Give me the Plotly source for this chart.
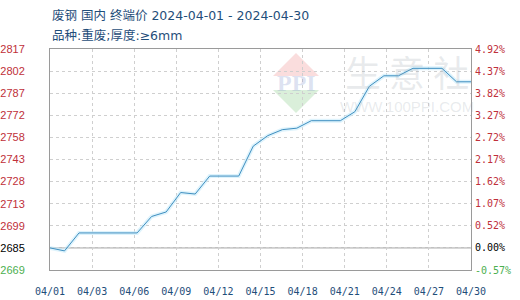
import pandas as pd
import plotly.graph_objects as go

# ---- data ----
dates = pd.date_range("2024-04-01", "2024-04-30", freq="D")
prices = [2685, 2683, 2695, 2695, 2695, 2695, 2695, 2706, 2709, 2722,
          2721, 2733, 2733, 2733, 2753, 2760, 2764, 2765, 2770, 2770,
          2770, 2776, 2793, 2800, 2800, 2805, 2805, 2805, 2796, 2796]
base_price = 2685
x_tick_labels = ["04/01", "04/03", "04/06", "04/09", "04/12", "04/15",
                 "04/18", "04/21", "04/24", "04/27", "04/30"]
left_tick_labels = ["2669", "2685", "2699", "2713", "2728", "2743",
                    "2758", "2772", "2787", "2802", "2817"]
right_tick_labels = ["-0.57%", "0.00%", "0.52%", "1.07%", "1.62%", "2.17%",
                     "2.72%", "3.27%", "3.82%", "4.37%", "4.92%"]
pct_step = 0.55  # percent per grid step
title_line1 = "废钢 国内 终端价 2024-04-01 - 2024-04-30"
title_line2 = "品种:重废;厚度:≥6mm"

# ---- derived scale ----
n_ticks = len(left_tick_labels)
tick_pos = [base_price * (1 + (k - 1) * pct_step / 100) for k in range(n_ticks)]
y_range = [tick_pos[0], tick_pos[-1]]

RED = "#c0303a"
GREEN = "#4caf50"
BLACK = "#000000"

def colored(labels):
    out = []
    for i, t in enumerate(labels):
        c = GREEN if i == 0 else (BLACK if i == 1 else RED)
        out.append(f'<span style="color:{c}">{t}</span>')
    return out

start, end = dates[0], dates[-1]
span = end - start
x_tick_pos = [start + span * k / (len(x_tick_labels) - 1) for k in range(len(x_tick_labels))]

fig = go.Figure()
# glow
fig.add_trace(go.Scatter(x=dates, y=prices, mode="lines",
                         line=dict(color="rgba(200,235,250,0.6)", width=4),
                         hoverinfo="skip", showlegend=False))
fig.add_trace(go.Scatter(x=dates, y=prices, mode="lines",
                         line=dict(color="#3f8fc0", width=1),
                         showlegend=False))
# invisible trace for right axis
fig.add_trace(go.Scatter(x=dates, y=prices, mode="lines", yaxis="y2",
                         line=dict(color="rgba(0,0,0,0)", width=0),
                         hoverinfo="skip", showlegend=False))

# baseline
fig.add_shape(type="line", xref="paper", x0=0, x1=1, yref="y",
              y0=base_price, y1=base_price, line=dict(color="#9a9a9a", width=1),
              layer="below")

# watermark logo
PL, PR, PT, PB = 50, 471, 49, 270

def px_to_paper(px, py):
    return (px - PL) / (PR - PL), (PB - py) / (PB - PT)

def path(points):
    s = ""
    for i, (px, py) in enumerate(points):
        x, y = px_to_paper(px, py)
        s += ("M" if i == 0 else "L") + f"{x:.4f},{y:.4f} "
    return s + "Z"

fig.add_shape(type="path", xref="paper", yref="paper", layer="below",
              path=path([(273, 76), (296, 53), (319, 76)]),
              fillcolor="rgba(240,150,150,0.32)", line=dict(width=0))
fig.add_shape(type="path", xref="paper", yref="paper", layer="below",
              path=path([(273, 90), (296, 113), (319, 90)]),
              fillcolor="rgba(140,205,140,0.32)", line=dict(width=0))
wx, wy = px_to_paper(296, 83)
fig.add_annotation(x=wx, y=wy, xref="paper", yref="paper", text="<b>PPI</b>",
                   showarrow=False, xanchor="center", yanchor="middle",
                   font=dict(family="Liberation Serif", size=24,
                             color="rgba(120,140,200,0.25)"))
wx, wy = px_to_paper(407, 71)
fig.add_annotation(x=wx, y=wy, xref="paper", yref="paper", text="生 意 社",
                   showarrow=False, xanchor="center", yanchor="middle",
                   font=dict(family="Noto Sans CJK SC", size=36,
                             color="rgba(150,160,170,0.22)"))
wx, wy = px_to_paper(407, 106)
fig.add_annotation(x=wx, y=wy, xref="paper", yref="paper", text="WWW.100PPI.COM",
                   showarrow=False, xanchor="center", yanchor="middle",
                   font=dict(family="Liberation Sans", size=15,
                             color="rgba(150,160,170,0.22)"))

# titles
for text, py in [(title_line1, 15), (title_line2, 35)]:
    tx, ty = px_to_paper(50, py)
    fig.add_annotation(x=tx, y=ty, xref="paper", yref="paper",
                       xanchor="left", yanchor="middle", text=text,
                       showarrow=False,
                       font=dict(family="Verdana, DejaVu Sans, Noto Sans CJK SC",
                                 size=12.5, color="#1f4e7a"))

fig.update_layout(
    width=520, height=300,
    margin=dict(l=PL, r=520 - PR, t=PT, b=300 - PB, autoexpand=False),
    paper_bgcolor="white", plot_bgcolor="white",
    xaxis=dict(type="date", range=[start, end], tickvals=x_tick_pos,
               ticktext=x_tick_labels, showgrid=True, gridcolor="#cfcfcf",
               griddash="dot", gridwidth=1, showline=True, linecolor="#9a9a9a",
               mirror=True, ticks="", ticklabelstandoff=12, automargin=False,
               tickfont=dict(family="DejaVu Sans Mono", size=10, color="#1f4e7a"),
               zeroline=False),
    yaxis=dict(range=y_range, tickvals=tick_pos, ticktext=colored(left_tick_labels),
               showgrid=True, gridcolor="#cfcfcf", griddash="dot",
               showline=True, linecolor="#9a9a9a", mirror=True, ticks="",
               ticklabelstandoff=22, zeroline=False, automargin=False,
               tickfont=dict(family="Liberation Sans", size=11)),
    yaxis2=dict(range=y_range, tickvals=tick_pos, ticktext=colored(right_tick_labels),
                overlaying="y", side="right", showgrid=False, showline=False,
                ticks="", zeroline=False, ticklabelstandoff=3, automargin=False,
                tickfont=dict(family="DejaVu Sans Mono", size=10)),
    hovermode=False,
)

fig.write_html("out.html")
